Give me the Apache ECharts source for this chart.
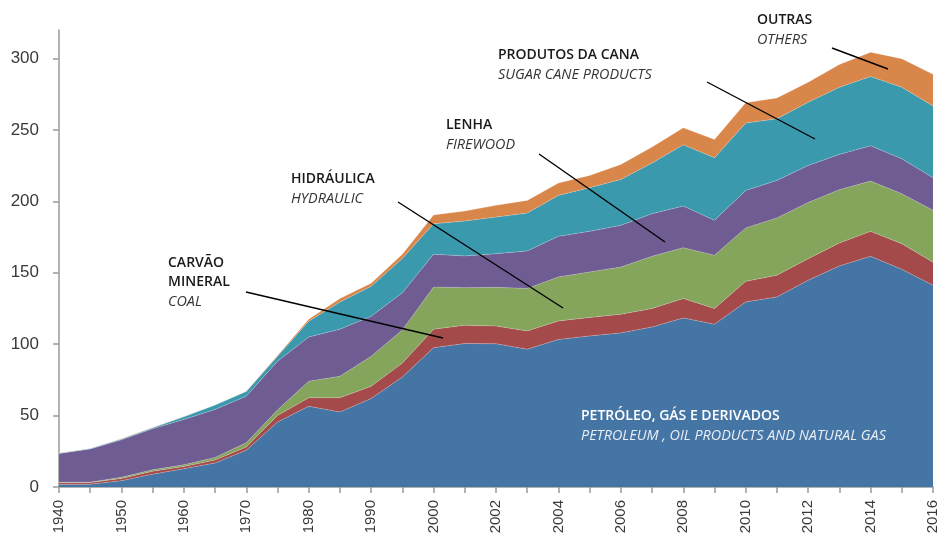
<!DOCTYPE html>
<html>
<head>
<meta charset="utf-8">
<title>Consumo final de energia por fonte</title>
<script src="https://cdn.jsdelivr.net/npm/echarts@6/dist/echarts.min.js"></script>
<style>
  html, body { margin: 0; padding: 0; background: #fff; }
  #main { width: 944px; height: 537px; }
</style>
</head>
<body>
<div id="main"></div>
<script>
// Categories
var years = ['1940', '1945', '1950', '1955', '1960', '1965', '1970', '1975', '1980', '1985', '1990', '1995',
  '2000', '2001', '2002', '2003', '2004', '2005', '2006', '2007', '2008', '2009', '2010', '2011', '2012',
  '2013', '2014', '2015', '2016'];

// Series values (stacked)
var petroleo = [1.8, 1.9, 4.4, 9.0, 12.8, 16.8, 25.8, 45.5, 56.5, 52.5, 62.0, 77.0,
  97.5, 100.5, 100.3, 96.5, 103.3, 105.8, 107.9, 112.1, 118.4, 114.0, 129.6, 133.1, 144.8,
  154.8, 161.5, 152.4, 141.3];
var carvao = [1.2, 1.2, 1.6, 2.0, 1.6, 2.1, 2.2, 4.5, 6.0, 10.0, 8.5, 9.8,
  13.0, 12.8, 12.4, 12.8, 13.0, 12.9, 13.1, 12.9, 13.6, 11.0, 14.4, 15.2, 15.1,
  16.0, 17.5, 18.0, 16.1];
var hidraulica = [0.3, 0.3, 0.8, 1.0, 1.1, 1.8, 3.0, 4.0, 11.5, 15.0, 21.0, 23.2,
  29.5, 26.3, 27.1, 29.7, 30.8, 31.9, 33.0, 36.5, 35.6, 37.2, 37.4, 40.1, 39.3,
  37.4, 35.2, 35.0, 36.3];
var lenha = [20.1, 23.2, 26.2, 28.8, 31.8, 33.6, 32.6, 34.0, 31.0, 33.0, 28.0, 26.0,
  23.0, 22.2, 23.6, 26.3, 28.4, 28.4, 29.2, 29.9, 29.1, 24.5, 26.3, 26.3, 26.0,
  24.7, 24.7, 24.4, 22.9];
var cana = [0.3, 0.3, 0.6, 0.7, 1.9, 3.1, 3.3, 3.5, 11.0, 19.0, 21.0, 24.0,
  21.3, 24.4, 25.6, 26.5, 28.7, 30.6, 32.2, 35.4, 42.9, 43.8, 47.1, 43.1, 44.2,
  47.0, 48.5, 50.1, 50.2];
var outras = [0.1, 0.1, 0.1, 0.1, 0.1, 0.1, 0.2, 0.5, 1.5, 2.5, 2.2, 3.0,
  6.2, 7.0, 8.2, 8.9, 8.6, 8.6, 10.5, 11.2, 11.9, 12.9, 14.2, 14.6, 14.0,
  15.9, 17.0, 19.9, 22.2];

// Tick labels
var yTicks = [0, 50, 100, 150, 200, 250, 300];

var colors = ['#4575a5', '#a54a4a', '#84a55b', '#6f5c93', '#3b99ae', '#d9864a'];

var myChart = echarts.init(document.getElementById('main'));

function layer(name, data, color) {
  return {
    name: name,
    type: 'line',
    stack: 'total',
    data: data,
    symbol: 'none',
    silent: true,
    lineStyle: { width: 0.6, color: 'rgba(255,255,255,0.35)' },
    areaStyle: { color: color, opacity: 1 },
    itemStyle: { color: color },
    animation: false
  };
}

// two-language annotation: portuguese bold, english italic below
function label(x, y, pt, en, light) {
  return {
    type: 'group',
    left: x,
    top: y,
    z: 100,
    children: [
      {
        type: 'text',
        z: 100,
        style: {
          text: pt,
          font: '600 14px "Open Sans"',
          lineHeight: 19,
          fill: light ? '#ffffff' : '#1a1a1a'
        }
      },
      {
        type: 'text',
        z: 100,
        top: pt.split('\n').length * 19,
        style: {
          text: en,
          font: 'italic 14.4px "Open Sans"',
          lineHeight: 19,
          fill: light ? '#e8eef5' : '#333333'
        }
      }
    ]
  };
}

function leader(x1, y1, x2, y2) {
  return {
    type: 'line',
    shape: { x1: x1, y1: y1, x2: x2, y2: y2 },
    style: { stroke: '#000', lineWidth: 1.4 },
    z: 100
  };
}

var option = {
  animation: false,
  grid: { left: 59, right: 11, top: 30, bottom: 50 },
  xAxis: {
    type: 'category',
    data: years,
    boundaryGap: false,
    axisLine: { lineStyle: { color: '#9a9a9a', width: 1.5 } },
    axisTick: { interval: 0, length: 6, lineStyle: { color: '#9a9a9a', width: 1.5 } },
    axisLabel: {
      interval: 1,
      rotate: 90,
      margin: 13,
      color: '#3a3a3a',
      fontFamily: '"Liberation Sans", Arial, sans-serif',
      fontSize: 15
    },
    splitLine: { show: false }
  },
  yAxis: {
    type: 'value',
    min: 0,
    max: 320,
    interval: 50,
    axisLine: { show: true, lineStyle: { color: '#9a9a9a', width: 1.5 } },
    axisTick: { show: true, length: 6, customValues: yTicks, lineStyle: { color: '#9a9a9a', width: 1.5 } },
    axisLabel: {
      customValues: yTicks,
      margin: 20,
      color: '#3a3a3a',
      fontFamily: '"Liberation Sans", Arial, sans-serif',
      fontSize: 17
    },
    splitLine: { show: false }
  },
  series: [
    layer('Petróleo, gás e derivados', petroleo, colors[0]),
    layer('Carvão mineral', carvao, colors[1]),
    layer('Hidráulica', hidraulica, colors[2]),
    layer('Lenha', lenha, colors[3]),
    layer('Produtos da cana', cana, colors[4]),
    layer('Outras', outras, colors[5])
  ],
  graphic: [
    label(168, 254, 'CARVÃO\nMINERAL', 'COAL'),
    leader(246, 292, 443, 338),
    label(291, 170, 'HIDRÁULICA', 'HYDRAULIC'),
    leader(398, 202, 563, 308),
    label(446, 116, 'LENHA', 'FIREWOOD'),
    leader(539, 154, 665, 242),
    label(498, 46, 'PRODUTOS DA CANA', 'SUGAR CANE PRODUCTS'),
    leader(707, 82, 815, 139),
    label(757, 11, 'OUTRAS', 'OTHERS'),
    leader(832, 48, 888, 69),
    label(581, 407, 'PETRÓLEO, GÁS E DERIVADOS', 'PETROLEUM , OIL PRODUCTS AND NATURAL GAS', true)
  ]
};

myChart.setOption(option);
</script>
</body>
</html>
